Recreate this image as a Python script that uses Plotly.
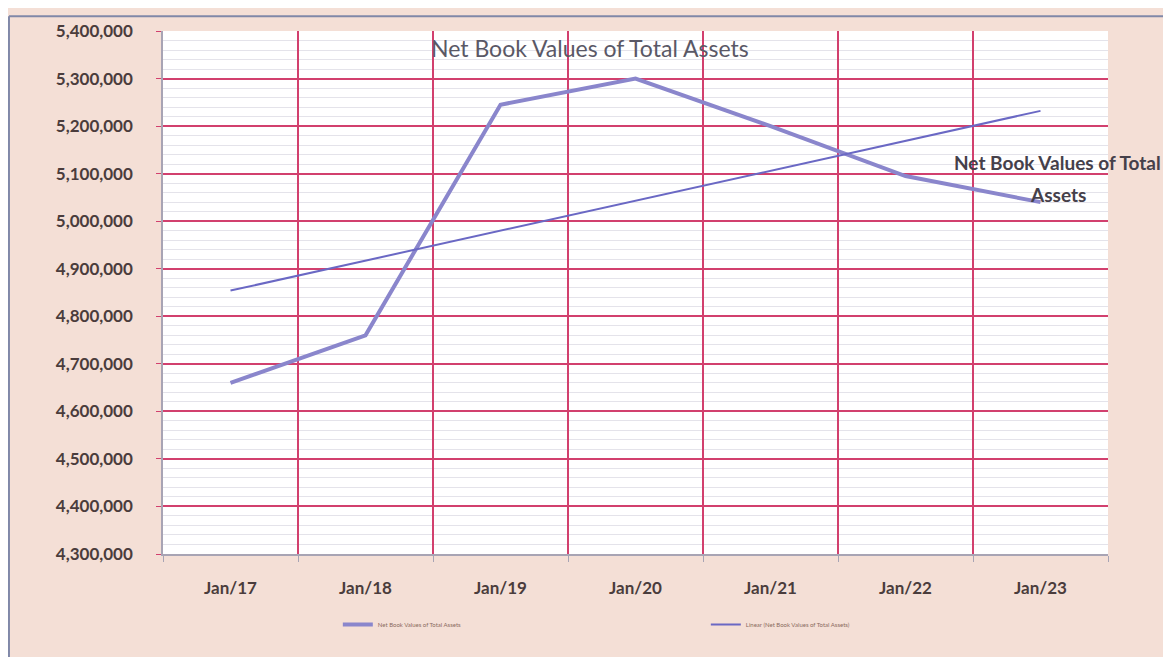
import plotly.graph_objects as go

categories = ["Jan/17", "Jan/18", "Jan/19", "Jan/20", "Jan/21", "Jan/22", "Jan/23"]
net_book_values = [4660000, 4760000, 5245000, 5300000, 5200000, 5095000, 5040000]
linear_trend = [4854000, 4917000, 4980000, 5043000, 5106000, 5169000, 5232000]
series_name = "Net Book Values of Total Assets"
trend_name = "Linear (Net Book Values of Total Assets)"
y_ticks = list(range(4300000, 5400001, 100000))

FONT = "Lato, Open Sans, sans-serif"
GRID_RED = "#d2406e"
TXT = "#4a3c3c"

fig = go.Figure()
fig.add_trace(go.Scatter(
    x=categories, y=net_book_values, mode="lines", name=series_name,
    line=dict(color="#8a86cc", width=4),
))
fig.add_trace(go.Scatter(
    x=categories, y=linear_trend, mode="lines", name=trend_name,
    line=dict(color="#6a68c4", width=2),
))

# data label of the series, next to the last point
fig.add_annotation(
    x=categories[-1], y=net_book_values[-1], xref="x", yref="y",
    text="Net Book Values of Total", showarrow=False,
    xshift=17, yshift=40,
    font=dict(family=FONT, size=19, color="#45404a", weight="bold"),
)
fig.add_annotation(
    x=categories[-1], y=net_book_values[-1], xref="x", yref="y",
    text="Assets", showarrow=False,
    xshift=17, yshift=8,
    font=dict(family=FONT, size=19, color="#45404a", weight="bold"),
)
fig.add_annotation(
    x=0.452, y=5350000, xref="paper", yref="y",
    text=series_name, showarrow=False, yshift=7,
    font=dict(family=FONT, size=23, color="#5a5866"),
)

fig.update_layout(
    width=1171, height=657,
    margin=dict(l=155, r=71, t=16, b=111),
    paper_bgcolor="#f4dfd6",
    plot_bgcolor="#ffffff",
    showlegend=True,
    legend=dict(
        orientation="h", x=0.185, xanchor="left", y=-0.135, yanchor="middle",
        entrywidth=323, font=dict(family=FONT, size=6, color="#8a6a60"),
        bgcolor="rgba(0,0,0,0)", itemwidth=30,
    ),
    font=dict(family=FONT, color=TXT),
)
fig.update_xaxes(
    type="category", range=[-0.5, 6.5], tickson="boundaries",
    showgrid=True, gridcolor=GRID_RED, gridwidth=1.5,
    showline=True, linecolor="#a8a4b4", linewidth=1.5,
    ticks="outside", ticklen=6, tickcolor="#a8a4b4",
    tickfont=dict(family=FONT, size=17, color=TXT, weight="bold"),
    ticklabelstandoff=18,
)
fig.update_yaxes(
    range=[4300000, 5400000], tickvals=y_ticks, tickformat=",d",
    showgrid=True, gridcolor=GRID_RED, gridwidth=1.5,
    showline=True, linecolor="#a8a4b4", linewidth=1.5,
    ticks="outside", ticklen=5, tickcolor=GRID_RED,
    tickfont=dict(family=FONT, size=17, color=TXT, weight="bold"),
    ticklabelstandoff=20,
    minor=dict(dtick=20000, showgrid=True, gridcolor="#e4e3ea", gridwidth=1),
    zeroline=False,
)

fig.add_shape(type="line", xref="paper", yref="paper", x0=-0.163, x1=-0.163, y0=-0.25, y1=1.028,
              line=dict(color="#8088a8", width=2))
fig.add_shape(type="line", xref="paper", yref="paper", x0=-0.163, x1=1.1, y0=1.028, y1=1.028,
              line=dict(color="#8088a8", width=2))

fig.write_html("out.html")
